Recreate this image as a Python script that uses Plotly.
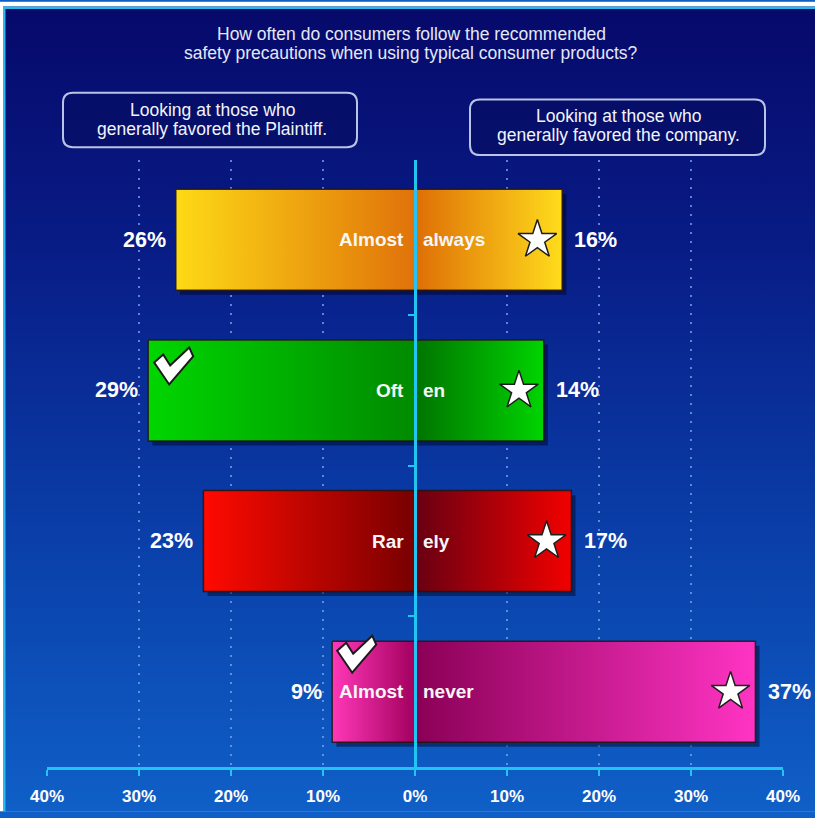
import base64
import plotly.graph_objects as go

# ---------------- data ----------------
categories = ["Almost always", "Often", "Rarely", "Almost never"]
label_left = ["Almost", "Oft", "Rar", "Almost"]
label_right = ["always", "en", "ely", "never"]
plaintiff_pct = [26, 29, 23, 9]
company_pct = [16, 14, 17, 37]
check_marks = [False, True, False, True]
tick_values = [-40, -30, -20, -10, 0, 10, 20, 30, 40]
tick_labels = ["40%", "30%", "20%", "10%", "0%", "10%", "20%", "30%", "40%"]
title_lines = ["How often do consumers follow the recommended",
               "safety precautions when using typical consumer products?"]
box_left_lines = ["Looking at those who", "generally favored the Plaintiff."]
box_right_lines = ["Looking at those who", "generally favored the company."]

# ---------------- style ----------------
left_colors = [("#fdda16", "#e0720a"), ("#00d600", "#008a00"),
               ("#ff0a00", "#780000"), ("#ff38b8", "#a2005e")]
right_colors = [("#de6e06", "#ffdc1c"), ("#007400", "#00d400"),
                ("#680012", "#f20000"), ("#8a0056", "#ff34c4")]
CYAN = "#22c4f2"
FONT = "Liberation Sans, Arial, sans-serif"

W, H = 815, 818
ML, MR, MT, MB = 47, 32, 160, 45
PW, PH = W - ML - MR, H - MT - MB
Y_RANGE = [3.5, -0.53]
HALF = 0.335


def px_x(px):
    return (px - ML) / PW


def px_y(py):
    return 1 - (py - MT) / PH


fig = go.Figure()

# shadows
for i, (l, r) in enumerate(zip(plaintiff_pct, company_pct)):
    dx, dy = 0.45, 0.03
    fig.add_trace(go.Scatter(
        x=[-l + dx, r + dx, r + dx, -l + dx, -l + dx],
        y=[i - HALF + dy, i - HALF + dy, i + HALF + dy, i + HALF + dy, i - HALF + dy],
        mode="lines", fill="toself", fillcolor="rgba(0,0,25,0.45)",
        line=dict(width=0), hoverinfo="skip", showlegend=False))

# bars (two halves each, gradient from center to outer end)
for i, (l, r) in enumerate(zip(plaintiff_pct, company_pct)):
    ys = [i - HALF, i - HALF, i + HALF, i + HALF, i - HALF]
    fig.add_trace(go.Scatter(
        x=[-l, 0, 0, -l, -l], y=ys, mode="lines", fill="toself",
        fillgradient=dict(type="horizontal", start=-l, stop=0,
                          colorscale=[[0, left_colors[i][0]], [1, left_colors[i][1]]]),
        line=dict(color="rgba(35,20,15,0.85)", width=1.5),
        hoverinfo="skip", showlegend=False, name=categories[i]))
    fig.add_trace(go.Scatter(
        x=[0, r, r, 0, 0], y=ys, mode="lines", fill="toself",
        fillgradient=dict(type="horizontal", start=0, stop=r,
                          colorscale=[[0, right_colors[i][0]], [1, right_colors[i][1]]]),
        line=dict(color="rgba(35,20,15,0.85)", width=1.5),
        hoverinfo="skip", showlegend=False, name=categories[i]))

# stars near the right end of each bar
fig.add_trace(go.Scatter(
    x=[r - 2.7 for r in company_pct], y=list(range(len(categories))),
    mode="markers",
    marker=dict(symbol="star", size=29, color="white",
                line=dict(color="#1e1e1e", width=1.5)),
    hoverinfo="skip", showlegend=False))

annotations = []
for i, (l, r) in enumerate(zip(plaintiff_pct, company_pct)):
    annotations.append(dict(x=-1.0, y=i, xref="x", yref="y", text=label_left[i],
                            showarrow=False, xanchor="right", yanchor="middle",
                            font=dict(family=FONT, size=19, color="#f6f6f6", weight="bold")))
    annotations.append(dict(x=0.6, y=i, xref="x", yref="y", text=label_right[i],
                            showarrow=False, xanchor="left", yanchor="middle",
                            font=dict(family=FONT, size=19, color="#f6f6f6", weight="bold")))
    annotations.append(dict(x=-l - 0.9, y=i, xref="x", yref="y", text=f"{l}%",
                            showarrow=False, xanchor="right", yanchor="middle",
                            font=dict(family=FONT, size=21.5, color="white", weight="bold")))
    annotations.append(dict(x=r + 1.1, y=i, xref="x", yref="y", text=f"{r}%",
                            showarrow=False, xanchor="left", yanchor="middle",
                            font=dict(family=FONT, size=21.5, color="white", weight="bold")))

# title
for line, py in zip(title_lines, [33, 52]):
    annotations.append(dict(x=px_x(411), y=px_y(py), xref="paper", yref="paper",
                            text=line, showarrow=False, xanchor="center", yanchor="middle",
                            font=dict(family=FONT, size=17.5, color="#e4e8f6")))

shapes = []


def rounded_box(x0, y0, x1, y1, rad=10):
    X = px_x
    Y = px_y
    path = (f"M {X(x0 + rad)},{Y(y0)} L {X(x1 - rad)},{Y(y0)} Q {X(x1)},{Y(y0)} {X(x1)},{Y(y0 + rad)} "
            f"L {X(x1)},{Y(y1 - rad)} Q {X(x1)},{Y(y1)} {X(x1 - rad)},{Y(y1)} "
            f"L {X(x0 + rad)},{Y(y1)} Q {X(x0)},{Y(y1)} {X(x0)},{Y(y1 - rad)} "
            f"L {X(x0)},{Y(y0 + rad)} Q {X(x0)},{Y(y0)} {X(x0 + rad)},{Y(y0)} Z")
    return dict(type="path", path=path, xref="paper", yref="paper",
                line=dict(color="#b9c3e6", width=2), fillcolor="rgba(6,12,95,0.55)",
                layer="above")


shapes.append(rounded_box(63, 92, 357, 147))
shapes.append(rounded_box(470, 99, 765, 155))

for line, py in zip(box_left_lines, [110, 129]):
    annotations.append(dict(x=px_x(212), y=px_y(py), xref="paper", yref="paper",
                            text=line, showarrow=False, xanchor="center", yanchor="middle",
                            font=dict(family=FONT, size=17.5, color="#f2f4fa")))
for line, py in zip(box_right_lines, [116, 135]):
    annotations.append(dict(x=px_x(618), y=px_y(py), xref="paper", yref="paper",
                            text=line, showarrow=False, xanchor="center", yanchor="middle",
                            font=dict(family=FONT, size=17.5, color="#f2f4fa")))

# check marks anchored to the left end of the flagged bars (pixel-sized path)
CHECK = [(-20, -4), (-11, -12), (-4, -1), (15, -19), (19, -10), (-5, 18)]
check_offset = [(0, 0), (26, -24), (0, 0), (25, -37)]
for i, l in enumerate(plaintiff_pct):
    if check_marks[i]:
        ox, oy = check_offset[i]
        pts = [(ox + px, -(oy + py)) for px, py in CHECK]
        path = "M " + " L ".join(f"{a},{b}" for a, b in pts) + " Z"
        shapes.append(dict(type="path", path=path, xref="x", yref="y",
                           xsizemode="pixel", ysizemode="pixel",
                           xanchor=-l, yanchor=i,
                           fillcolor="white", line=dict(color="#1a1a1a", width=2),
                           layer="above"))

# background (gradient + frame) as an SVG image
svg = f"""<svg xmlns='http://www.w3.org/2000/svg' width='{W}' height='{H}' viewBox='0 0 {W} {H}' preserveAspectRatio='none'>
<defs><linearGradient id='g' x1='0' y1='0' x2='0' y2='1'>
<stop offset='0' stop-color='#06096a'/><stop offset='0.3' stop-color='#081c86'/>
<stop offset='0.65' stop-color='#0a3ea8'/><stop offset='1' stop-color='#0f60c8'/>
</linearGradient></defs>
<rect width='{W}' height='{H}' fill='white'/>
<rect x='3' y='5' width='{W}' height='{H}' fill='url(#g)'/>
<rect x='3' y='5' width='{W}' height='2.5' fill='#2ab8ee'/>
<rect x='3' y='5' width='2.5' height='{H}' fill='#2ab8ee'/>
</svg>"""
bg_src = "data:image/svg+xml;base64," + base64.b64encode(svg.encode()).decode()

fig.update_layout(
    width=W, height=H,
    margin=dict(l=ML, r=MR, t=MT, b=MB, pad=0),
    paper_bgcolor="#0f5fc6", plot_bgcolor="rgba(0,0,0,0)",
    showlegend=False,
    images=[dict(source=bg_src, xref="paper", yref="paper",
                 x=-ML / PW, y=1 + MT / PH, sizex=W / PW, sizey=H / PH,
                 xanchor="left", yanchor="top", sizing="stretch", layer="below")],
    xaxis=dict(range=[-40, 40], tickvals=tick_values, ticktext=tick_labels,
               showgrid=True, gridcolor="rgba(120,165,235,0.75)", gridwidth=1.5,
               griddash="2px,7px", zeroline=False,
               showline=True, linecolor=CYAN, linewidth=3,
               ticks="outside", ticklen=6, tickwidth=2, tickcolor=CYAN,
               ticklabelstandoff=6,
               tickfont=dict(family=FONT, size=17, color="white", weight="bold"),
               fixedrange=True),
    yaxis=dict(range=Y_RANGE, anchor="free", position=0.5,
               showline=True, linecolor=CYAN, linewidth=3,
               tickvals=[0.5, 1.5, 2.5], ticks="outside", ticklen=6, tickwidth=2,
               tickcolor=CYAN, showticklabels=False, showgrid=False, zeroline=False,
               layer="above traces", fixedrange=True),
    annotations=annotations,
    shapes=shapes,
)

fig.write_html("out.html", config={"displayModeBar": False},
               post_script="document.body.style.margin='0';document.body.style.overflow='hidden';")
